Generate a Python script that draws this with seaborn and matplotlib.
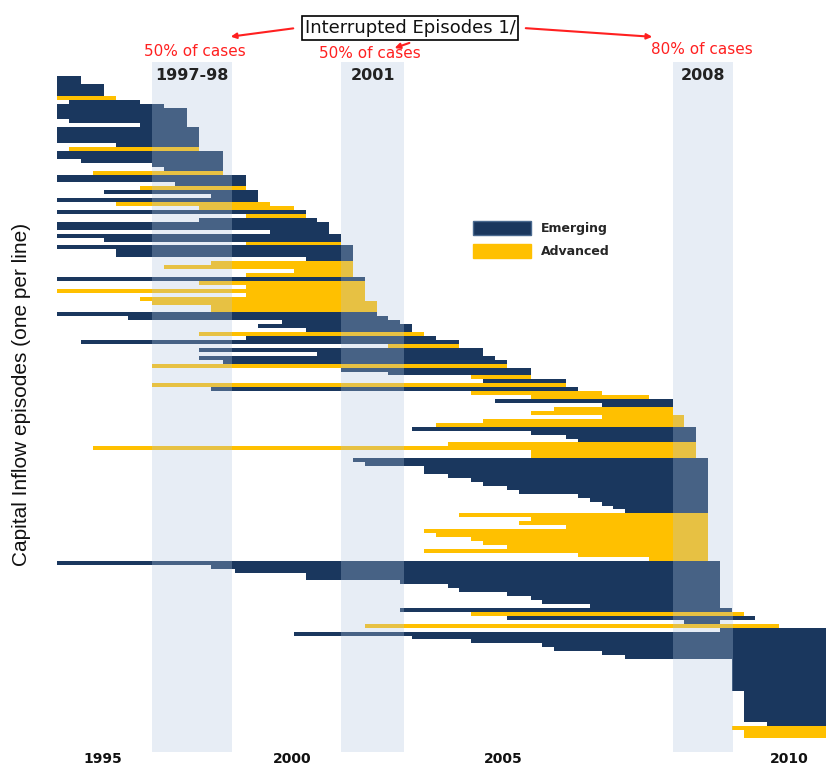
import numpy as np
import pandas as pd
import matplotlib
matplotlib.use("Agg")
import matplotlib.pyplot as plt
from matplotlib.patches import Patch
import seaborn as sns

# one row per capital inflow episode, top to bottom (start / end in years, quarterly)
starts = [
    1995.0, 1995.0, 1995.0, 1995.0, 1995.0, 1995.0, 1995.25, 1995.0, 1995.0, 1995.0,
    1995.0, 1995.25, 1996.75, 1995.0, 1995.0, 1995.0, 1995.0, 1996.25, 1995.25, 1995.0,
    1995.0, 1995.5, 1997.0, 1997.25, 1995.75, 1995.0, 1995.0, 1997.5, 1996.75, 1996.0,
    1998.25, 1995.0, 1996.25, 1998.0, 1995.0, 1999.0, 1998.0, 1995.0, 1995.0, 1999.5,
    1995.0, 1996.0, 1999.0, 1995.0, 1996.25, 1996.25, 2000.25, 1998.25, 1997.25, 2000.0,
    1999.0, 1995.0, 1998.0, 1999.0, 1995.0, 1999.0, 1996.75, 1997.0, 1998.25, 1998.25,
    1995.0, 1996.5, 1999.75, 1999.25, 2000.25, 1998.0, 1999.0, 1995.5, 2002.0, 1998.0,
    2000.5, 1998.0, 1998.5, 1997.0, 2001.0, 2002.0, 2003.75, 2004.0, 1997.0, 1998.25,
    2003.75, 2005.0, 2004.25, 2006.5, 2005.5, 2005.0, 2006.5, 2004.0, 2003.0, 2002.5,
    2005.0, 2005.75, 2006.0, 2003.25, 1995.75, 2005.0, 2005.0, 2001.25, 2001.5, 2002.75,
    2002.75, 2003.25, 2003.75, 2004.0, 2004.5, 2004.75, 2006.0, 2006.25, 2006.5, 2006.75,
    2007.0, 2003.5, 2005.0, 2004.75, 2005.75, 2002.75, 2003.0, 2003.75, 2004.0, 2004.5,
    2002.75, 2006.0, 2007.5, 1995.0, 1998.25, 1998.75, 2000.25, 2000.25, 2002.25, 2003.25,
    2003.5, 2004.5, 2005.0, 2005.25, 2006.25, 2002.25, 2003.75, 2004.5, 2008.25, 2001.5,
    2009.0, 2000.0, 2002.5, 2003.75, 2005.25, 2005.5, 2006.5, 2007.0, 2009.25, 2009.25,
    2009.25, 2009.25, 2009.25, 2009.25, 2009.25, 2009.25, 2009.5, 2009.5, 2009.5, 2009.5,
    2009.5, 2009.5, 2009.5, 2009.5, 2010.0, 2009.25, 2009.5, 2009.5,
]
ends = [
    1995.5, 1995.5, 1996.0, 1996.0, 1996.0, 1996.25, 1996.75, 1997.25, 1997.75, 1997.75,
    1997.75, 1997.75, 1997.75, 1998.0, 1998.0, 1998.0, 1998.0, 1998.0, 1998.0, 1998.5,
    1998.5, 1998.5, 1998.5, 1998.5, 1998.5, 1999.0, 1999.0, 1999.0, 1999.0, 1999.25,
    1999.25, 1999.25, 1999.5, 2000.0, 2000.25, 2000.25, 2000.5, 2000.75, 2000.75, 2000.75,
    2001.0, 2001.0, 2001.0, 2001.25, 2001.25, 2001.25, 2001.25, 2001.25, 2001.25, 2001.25,
    2001.25, 2001.5, 2001.5, 2001.5, 2001.5, 2001.5, 2001.5, 2001.75, 2001.75, 2001.75,
    2001.75, 2002.0, 2002.25, 2002.5, 2002.5, 2002.75, 2003.0, 2003.5, 2003.5, 2004.0,
    2004.0, 2004.25, 2004.5, 2004.5, 2005.0, 2005.0, 2005.0, 2005.75, 2005.75, 2006.0,
    2006.5, 2007.5, 2008.0, 2008.0, 2008.0, 2008.0, 2008.25, 2008.25, 2008.25, 2008.5,
    2008.5, 2008.5, 2008.5, 2008.5, 2008.5, 2008.5, 2008.5, 2008.75, 2008.75, 2008.75,
    2008.75, 2008.75, 2008.75, 2008.75, 2008.75, 2008.75, 2008.75, 2008.75, 2008.75, 2008.75,
    2008.75, 2008.75, 2008.75, 2008.75, 2008.75, 2008.75, 2008.75, 2008.75, 2008.75, 2008.75,
    2008.75, 2008.75, 2008.75, 2009.0, 2009.0, 2009.0, 2009.0, 2009.0, 2009.0, 2009.0,
    2009.0, 2009.0, 2009.0, 2009.0, 2009.0, 2009.25, 2009.5, 2009.75, 2009.0, 2010.25,
    2011.5, 2011.5, 2011.5, 2011.5, 2011.5, 2011.5, 2011.5, 2011.5, 2011.5, 2011.5,
    2011.5, 2011.5, 2011.5, 2011.5, 2011.5, 2011.5, 2011.5, 2011.5, 2011.5, 2011.5,
    2011.5, 2011.5, 2011.5, 2011.5, 2011.5, 2011.5, 2011.5, 2011.5,
]
# E = Emerging, A = Advanced
groups = list(
    "EEEEEAEEEE" "EEEEEEEEAE" "EEEEAEEEAE" "EEAAEAEEEE"
    "EEAEEEEAAA" "AEAAAAAAAA" "EEEEEAEEAE" "EEEAEEAEAE"
    "AAEEAAAAAE" "EEEAAAAEEE" "EEEEEEEEEE" "EAAAAAAAAA"
    "AAAEEEEEEE" "EEEEEEAEEA" "EEEEEEEEEE" "EEEEEEEEEE"
    "EEEEEAAA"
)

crisis_names = ["1997-98", "2001", "2008"]
crisis_start = [1997.0, 2001.0, 2008.0]
crisis_end = [1998.7, 2002.33, 2009.27]
crisis_note = ["50% of cases", "50% of cases", "80% of cases"]

tick_labels = ["1995", "2000", "2005", "2010"]
tick_pos = [1995.97, 1999.97, 2004.42, 2010.47]

df = pd.DataFrame({"start": starts, "end": ends, "group": groups})
df["row"] = np.arange(len(df))
df["length"] = df["end"] - df["start"]

colors = {"E": "#1a375e", "A": "#ffc000"}
labels = {"E": "Emerging", "A": "Advanced"}

sns.set_theme(style="white")
plt.rcParams["font.family"] = ["DejaVu Sans"]

W, H = 826, 765
fig = plt.figure(figsize=(W / 100, H / 100), dpi=100)
ax = fig.add_axes([57 / W, 1 - 752 / H, 1 - 57 / W, (752 - 62) / H])

for g, sub in df.groupby("group"):
    ax.barh(sub["row"] + 0.5, sub["length"], left=sub["start"], height=1.0,
            color=colors[g], linewidth=0, zorder=2)

for name, s, e in zip(crisis_names, crisis_start, crisis_end):
    ax.axvspan(s, e, color="#b1c6e1", alpha=0.3, linewidth=0, zorder=3)
    ax.text((s + e) / 2, 0.981, name, transform=ax.get_xaxis_transform(),
            ha="center", va="center", fontsize=11.5, fontweight="bold",
            color="#222222", zorder=4)

row_px = (738 - 76) / len(df)
ax.set_ylim((752 - 76) / row_px, (62 - 76) / row_px)
ax.set_xlim(1995.0, 1995.0 + (826 - 57) / 47.35)

ax.set_yticks([])
ax.set_xticks(tick_pos)
ax.set_xticklabels(tick_labels, fontsize=10, fontweight="bold", color="#111111")
ax.tick_params(axis="x", length=0, pad=0)
for sp in ax.spines.values():
    sp.set_visible(False)

fig.text(22 / W, 1 - 394 / H, "Capital Inflow episodes (one per line)",
         rotation=90, ha="center", va="center", fontsize=15, color="#111111",
         family=["Liberation Sans Narrow", "Liberation Sans"])

# title box with red arrows
fig.text(410 / W, 1 - 28 / H, "Interrupted Episodes 1/", ha="center", va="center",
         fontsize=13, color="#111111",
         bbox=dict(boxstyle="square,pad=0.15", facecolor="white", edgecolor="black", linewidth=1.2))
arrow = dict(arrowstyle="-|>", color="#ff2020", lw=1.5, mutation_scale=8)
for tail, head in [((296, 28), (228, 37)), ((412, 42), (392, 49)), ((523, 28), (655, 37))]:
    fig.add_artist(matplotlib.patches.FancyArrowPatch(
        (tail[0] / W, 1 - tail[1] / H), (head[0] / W, 1 - head[1] / H),
        transform=fig.transFigure, **arrow))

for note, x, y in zip(crisis_note, [195, 370, 702], [52, 54, 49]):
    fig.text(x / W, 1 - y / H, note, ha="center", va="center", fontsize=11, color="#ff2020")

handles = [Patch(facecolor=colors[k], edgecolor="#4a6a90" if k == "E" else colors[k],
                 label=labels[k]) for k in ["E", "A"]]
leg = fig.legend(handles=handles, loc="upper left", bbox_to_anchor=(473 / W, 1 - 221 / H),
                 frameon=False, borderpad=0, borderaxespad=0, handlelength=4.6,
                 handleheight=1.36, labelspacing=0.72, handletextpad=0.8,
                 prop={"size": 9, "weight": "bold"})

fig.savefig("out.png", dpi=100)
